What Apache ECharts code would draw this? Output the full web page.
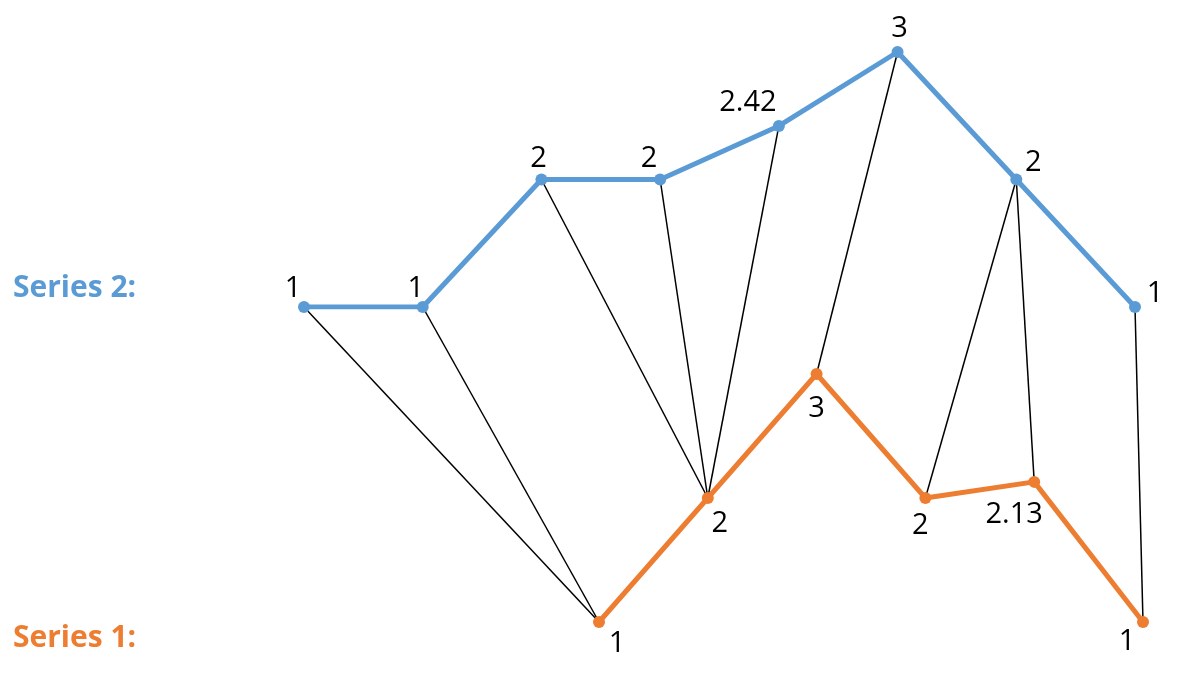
<!DOCTYPE html>
<html>
<head>
<meta charset="utf-8">
<script src="https://cdn.jsdelivr.net/npm/echarts@6/dist/echarts.min.js"></script>
<style>html,body{margin:0;padding:0;background:#fff;}#c{width:1188px;height:673px;}</style>
</head>
<body>
<div id="c"></div>
<script>
const series2Values = [1, 1, 2, 2, 2.42, 3, 2, 1];
const series1Values = [1, 2, 3, 2, 2.13, 1];
const warpPairs = [[0,0],[1,0],[2,1],[3,1],[4,1],[5,2],[6,3],[6,4],[7,5]];
const seriesNames = ['Series 2:', 'Series 1:'];

const blue = '#5B9BD5', orange = '#ED7D31';
const font = "'Open Sans', 'Noto Sans', sans-serif";
const blueOffsets = [[-11,7],[-7,7],[-3,5],[-11,5],[-31,2],[2,2],[17,9],[20,12]];
const orangeOffsets = [[18,-4],[12,0],[0,9],[-5,2],[-20,7],[-16,-6]];

const chart = echarts.init(document.getElementById('c'));
const baseLabel = {show:true, fontSize:29, color:'#000', fontFamily:font};
chart.setOption({
  animation:false,
  grid:[
    {left:304, right:53, top:52, bottom:366},
    {left:599, right:45, top:374, bottom:51}
  ],
  xAxis:[
    {type:'value', gridIndex:0, min:0, max:series2Values.length-1, show:false},
    {type:'value', gridIndex:1, min:0, max:series1Values.length-1, show:false}
  ],
  yAxis:[
    {type:'value', gridIndex:0, min:1, max:3, show:false},
    {type:'value', gridIndex:1, min:1, max:3, show:false}
  ],
  series:[
    {type:'line', xAxisIndex:0, yAxisIndex:0, z:5,
     data:series2Values.map((v,i)=>({value:[i,v], label:Object.assign({}, baseLabel, {position:'top', offset:blueOffsets[i]})})),
     symbol:'circle', symbolSize:12, lineStyle:{color:blue, width:5}, itemStyle:{color:blue}},
    {type:'line', xAxisIndex:1, yAxisIndex:1, z:5,
     data:series1Values.map((v,i)=>({value:[i,v], label:Object.assign({}, baseLabel, {position:'bottom', offset:orangeOffsets[i]})})),
     symbol:'circle', symbolSize:12, lineStyle:{color:orange, width:5}, itemStyle:{color:orange}}
  ]
});

const graphics = [];
warpPairs.forEach(([b,o])=>{
  const p1 = chart.convertToPixel({xAxisIndex:0, yAxisIndex:0}, [b, series2Values[b]]);
  const p2 = chart.convertToPixel({xAxisIndex:1, yAxisIndex:1}, [o, series1Values[o]]);
  graphics.push({type:'line', z:1, shape:{x1:p1[0], y1:p1[1], x2:p2[0], y2:p2[1]}, style:{stroke:'#000', lineWidth:1.5}});
});
const y2 = chart.convertToPixel({yAxisIndex:0}, 1);
const y1 = chart.convertToPixel({yAxisIndex:1}, 1);
graphics.push({type:'text', x:13, y:y2-19, style:{text:seriesNames[0], fill:blue, font:"bold 30px "+font, verticalAlign:'middle'}});
graphics.push({type:'text', x:13, y:y1+16, style:{text:seriesNames[1], fill:orange, font:"bold 30px "+font, verticalAlign:'middle'}});
chart.setOption({graphic:graphics});
</script>
</body>
</html>
